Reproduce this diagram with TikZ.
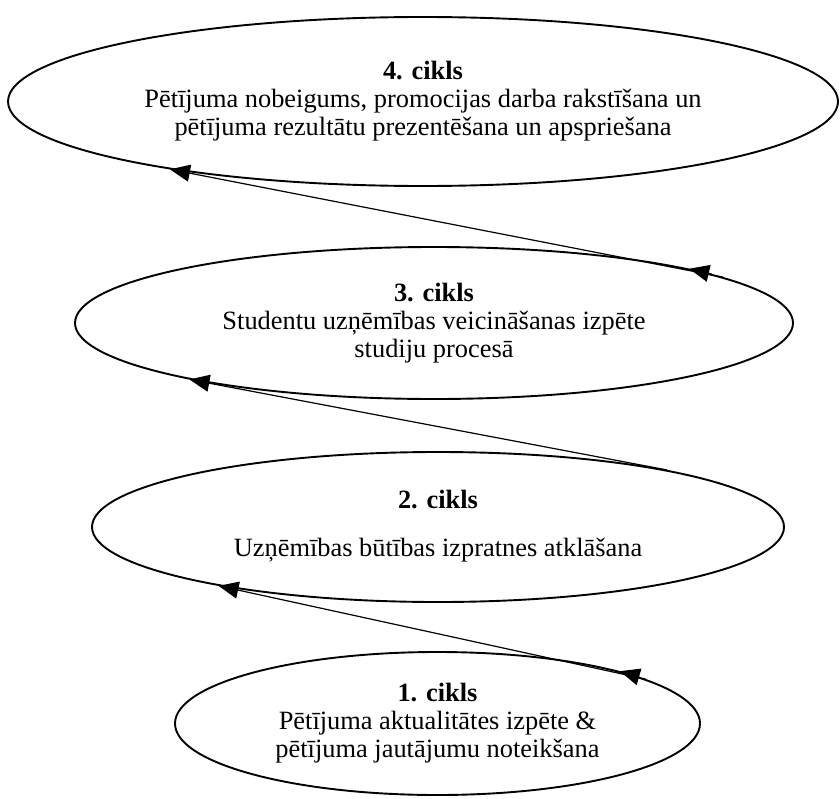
\documentclass[tikz,border=0pt]{standalone}
\usepackage{fontspec}
\setmainfont{Liberation Serif}
\usetikzlibrary{arrows.meta,shapes.geometric}
\begin{document}
\begin{tikzpicture}[x=1bp,y=-1bp,
  cycle/.style={draw,line width=1.9bp,ellipse,inner sep=0pt,align=center,
    font=\fontsize{26.5}{28}\selectfont},
  link/.style={line width=1.2bp,-{Triangle[length=20bp,width=17bp]}},
  headmark/.style={line width=1.2bp,-{Triangle[length=20bp,width=17bp]}}]
\useasboundingbox (0,0) rectangle (840,799);

% cycle ellipses, bottom to top
\node[cycle,minimum width=525bp,minimum height=143bp] (c1) at (437.5,723.5)
  {\textbf{1. cikls}\\Pētījuma aktualitātes izpēte \&\\pētījuma jautājumu noteikšana};
\node[cycle,minimum width=692bp,minimum height=150bp] (c2) at (438,527)
  {\raisebox{6bp}{\begin{tabular}{@{}c@{}}\textbf{2. cikls}\\[20bp]Uzņēmības būtības izpratnes atklāšana\end{tabular}}};
\node[cycle,minimum width=718bp,minimum height=152bp] (c3) at (434,323)
  {\textbf{3. cikls}\\Studentu uzņēmības veicināšanas izpēte\\studiju procesā};
\node[cycle,minimum width=830bp,minimum height=169bp] (c4) at (423,101.5)
  {\textbf{4. cikls}\\Pētījuma nobeigums, promocijas darba rakstīšana un\\pētījuma rezultātu prezentēšana un apspriešana};

% transitions between cycles
\draw[link] (c1.12) -- (c2.195.8);
\draw[headmark] (c1.13) -- (c1.16.9);
\draw[link] (c2.14.1) -- (c3.193.8);
\draw[link] (c3.9.8) -- (c4.195.4);
\draw[headmark] (c3.10) -- (c3.12.8);
\end{tikzpicture}
\end{document}
